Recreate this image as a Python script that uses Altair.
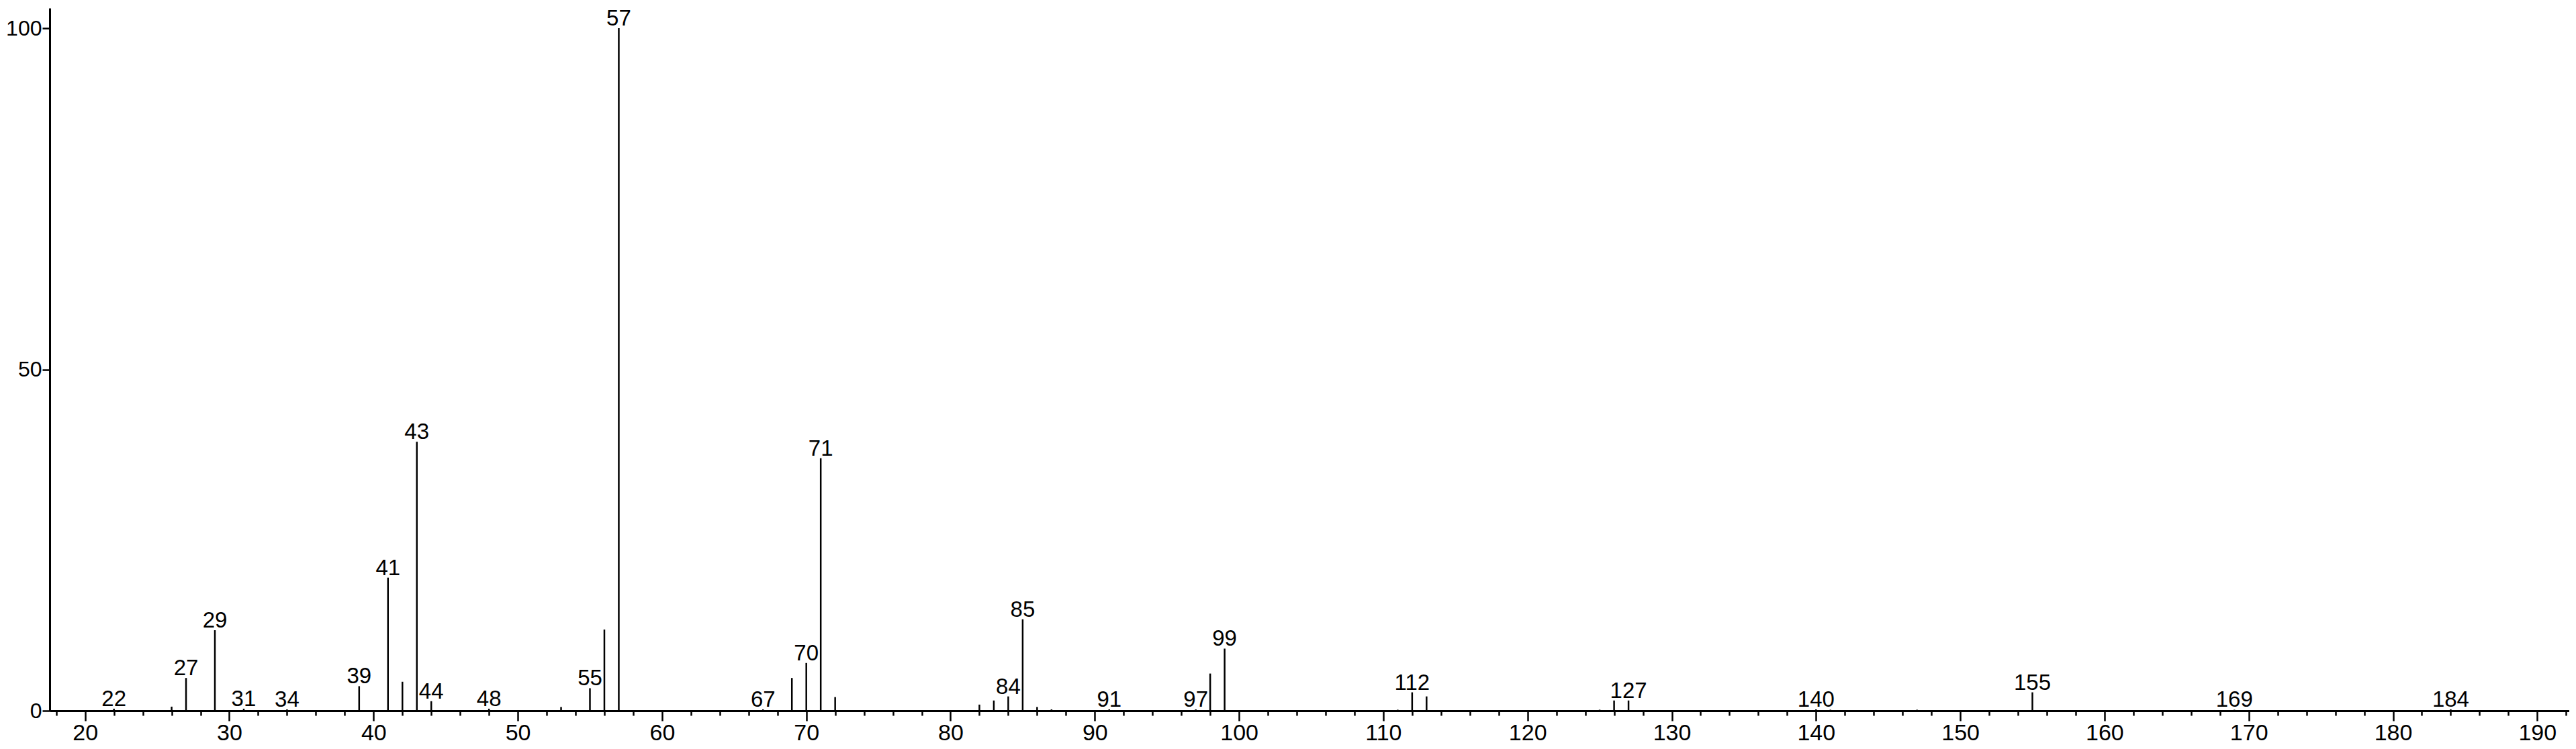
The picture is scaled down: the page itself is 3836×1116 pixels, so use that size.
import altair as alt
import pandas as pd

# m/z values and relative intensities
mz = [22, 23, 26, 27, 29, 31, 34, 35, 37, 39, 41, 42, 43, 44, 48, 51, 53, 55, 56, 57,
      67, 69, 70, 71, 72, 81, 82, 83, 84, 85, 86, 87, 91, 97, 98, 99,
      111, 112, 113, 125, 126, 127, 140, 141, 147, 155, 169, 184]
intensity = [0.3, 0.1, 0.6, 4.8, 11.8, 0.3, 0.2, 0.1, 0.1, 3.6, 19.5, 4.25, 39.4, 1.4, 0.3, 0.1, 0.55, 3.3, 11.9, 100.0,
             0.2, 4.8, 7.0, 37.0, 2.0, 0.1, 0.9, 1.5, 2.1, 13.4, 0.55, 0.2, 0.2, 0.2, 5.45, 9.1,
             0.15, 2.7, 2.1, 0.15, 1.5, 1.5, 0.2, 0.15, 0.15, 2.7, 0.15, 0.2]
labelled = [22, 27, 29, 31, 34, 39, 41, 43, 44, 48, 55, 57, 67, 70, 71, 84, 85, 91, 97, 99,
            112, 127, 140, 155, 169, 184]

x_ticks = list(range(18, 193, 2))
y_ticks = [0, 50, 100]

X_DOMAIN = [17.547, 192.22]
Y_DOMAIN = [0, 102.95]

FONT = "Liberation Sans"

df = pd.DataFrame({"mz": mz, "intensity": intensity})
lab = df[df["mz"].isin(labelled)]

x_enc = alt.X(
    "mz:Q",
    scale=alt.Scale(domain=X_DOMAIN, nice=False, zero=False),
    axis=alt.Axis(
        values=x_ticks,
        title=None,
        grid=False,
        labelExpr="datum.value % 10 === 0 ? datum.label : ''",
        tickSize={"condition": {"test": "datum.value % 10 === 0", "value": 15}, "value": 7},
        labelPadding=1,
        labelFlush=False,
        labelOverlap=False,
        labelFontSize=34,
    ),
)
y_enc = alt.Y(
    "intensity:Q",
    scale=alt.Scale(domain=Y_DOMAIN, nice=False),
    axis=alt.Axis(values=y_ticks, title=None, grid=False, tickSize=11, labelPadding=1,
                  labelFlush=False, labelOverlap=False, labelFontSize=32),
)

bars = alt.Chart(df).mark_rule(color="black", strokeWidth=2.5).encode(
    x=x_enc, y=y_enc, y2=alt.datum(0)
)

labels = alt.Chart(lab).mark_text(
    baseline="alphabetic", align="center", dy=-4, font=FONT, fontSize=33, color="black"
).encode(
    x="mz:Q", y="intensity:Q", text=alt.Text("mz:Q", format="d")
)

chart = (
    alt.layer(bars, labels)
    .properties(
        width=3752,
        height=1047,
        autosize=alt.AutoSizeParams(type="none"),
        padding={"left": 66, "top": 4, "right": 0, "bottom": 50},
        background="white",
    )
    .configure_view(stroke=None)
    .configure_axis(
        domainColor="black",
        domainWidth=3,
        tickColor="black",
        tickWidth=2.5,
        labelColor="black",
        labelFont=FONT,
    )
)

chart.save("out.html", embed_options={"renderer": "svg", "actions": False})
